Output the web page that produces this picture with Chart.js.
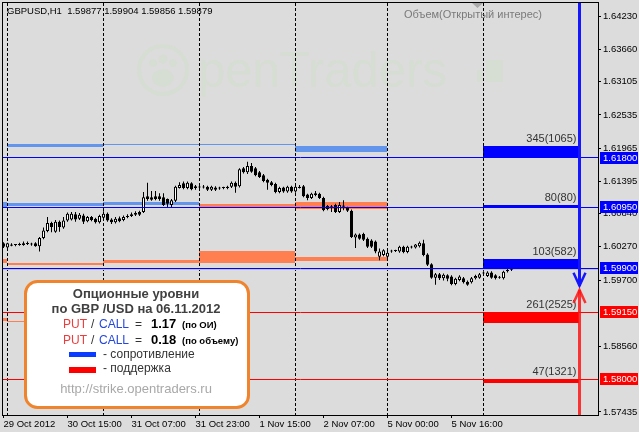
<!DOCTYPE html>
<html>
<head>
<meta charset="utf-8">
<title>GBPUSD H1 option levels</title>
<script src="https://cdn.jsdelivr.net/npm/chart.js@4.4.1/dist/chart.umd.min.js"></script>
<style>
  html, body { margin: 0; padding: 0; background: #dcdcdc; }
  #box { width: 639px; height: 432px; position: relative; }
</style>
</head>
<body>
<div id="box"><canvas id="chart"></canvas></div>
<script>
// GBPUSD H1 bars, 29 Oct 23:00 .. 6 Nov 07:00 (bar index = position on the time axis)
const opens = [
  1.6033, 1.6026, 1.6029, 1.6031, 1.6030, 1.6030, 1.6033, 1.6032, 1.6033, 1.6028,
  1.6042, 1.6054, 1.6068, 1.6053, 1.6070, 1.6060, 1.6072, 1.6074, 1.6083, 1.6075,
  1.6081, 1.6071, 1.6078, 1.6075, 1.6069, 1.6077, 1.6084, 1.6074, 1.6069, 1.6076,
  1.6073, 1.6078, 1.6080, 1.6082, 1.6087, 1.6087, 1.6114, 1.6112, 1.6114, 1.6114,
  1.6112, 1.6109, 1.6099, 1.6106, 1.6128, 1.6136, 1.6128, 1.6136, 1.6131, 1.6130,
  1.6129, 1.6130, 1.6125, 1.6129, 1.6127, 1.6128, 1.6128, 1.6130, 1.6137, 1.6131,
  1.6162, 1.6155, 1.6166, 1.6162, 1.6155, 1.6150, 1.6142, 1.6138, 1.6135, 1.6121,
  1.6129, 1.6122, 1.6130, 1.6122, 1.6130, 1.6131, 1.6117, 1.6111, 1.6119, 1.6118,
  1.6111, 1.6092, 1.6096, 1.6099, 1.6087, 1.6098, 1.6094, 1.6089, 1.6043, 1.6048,
  1.6049, 1.6041, 1.6038, 1.6036, 1.6010, 1.6013, 1.6010, 1.6019, 1.6020, 1.6019,
  1.6027, 1.6018, 1.6027, 1.6026, 1.6028, 1.6033, 1.6014, 1.5997, 1.5974, 1.5980,
  1.5973, 1.5978, 1.5976, 1.5963, 1.5970, 1.5973, 1.5967, 1.5966, 1.5973, 1.5974,
  1.5981, 1.5977, 1.5983, 1.5978, 1.5975, 1.5973, 1.5985, 1.59877
];
const highs = [
  1.6035, 1.6034, 1.6033, 1.6032, 1.6034, 1.6036, 1.6036, 1.6034, 1.6035, 1.6044,
  1.6060, 1.6078, 1.6070, 1.6073, 1.6072, 1.6078, 1.6086, 1.6087, 1.6087, 1.6085,
  1.6084, 1.6080, 1.6080, 1.6077, 1.6082, 1.6088, 1.6086, 1.6076, 1.6078, 1.6079,
  1.6081, 1.6083, 1.6086, 1.6088, 1.6089, 1.6121, 1.6137, 1.6123, 1.6123, 1.6119,
  1.6119, 1.6110, 1.6109, 1.6132, 1.6138, 1.6139, 1.6139, 1.6138, 1.6133, 1.6132,
  1.6133, 1.6132, 1.6132, 1.6131, 1.6130, 1.6130, 1.6132, 1.6139, 1.6139, 1.6162,
  1.6164, 1.6173, 1.6171, 1.6164, 1.6157, 1.6152, 1.6144, 1.6140, 1.6137, 1.6130,
  1.6130, 1.6132, 1.6132, 1.6133, 1.6133, 1.6133, 1.6118, 1.6120, 1.6123, 1.6120,
  1.6113, 1.6099, 1.6099, 1.6101, 1.6104, 1.6107, 1.6096, 1.6091, 1.6050, 1.6050,
  1.6051, 1.6043, 1.6040, 1.6038, 1.6024, 1.6023, 1.6021, 1.6022, 1.6022, 1.6029,
  1.6029, 1.6029, 1.6029, 1.6032, 1.6036, 1.6039, 1.6016, 1.5999, 1.5982, 1.5982,
  1.5981, 1.5980, 1.5978, 1.5974, 1.5978, 1.5975, 1.5969, 1.5975, 1.5979, 1.5982,
  1.5985, 1.5985, 1.5985, 1.5980, 1.5977, 1.5986, 1.5990, 1.59904
];
const lows = [
  1.6025, 1.6025, 1.6028, 1.6028, 1.6029, 1.6029, 1.6030, 1.6029, 1.6027, 1.6019,
  1.6040, 1.6052, 1.6052, 1.6051, 1.6053, 1.6058, 1.6070, 1.6072, 1.6070, 1.6073,
  1.6066, 1.6069, 1.6071, 1.6067, 1.6067, 1.6075, 1.6070, 1.6066, 1.6067, 1.6069,
  1.6071, 1.6076, 1.6078, 1.6080, 1.6080, 1.6085, 1.6106, 1.6106, 1.6107, 1.6106,
  1.6097, 1.6095, 1.6094, 1.6104, 1.6127, 1.6126, 1.6126, 1.6124, 1.6125, 1.6127,
  1.6127, 1.6123, 1.6123, 1.6123, 1.6125, 1.6126, 1.6126, 1.6128, 1.6120, 1.6129,
  1.6153, 1.6152, 1.6154, 1.6148, 1.6145, 1.6138, 1.6125, 1.6131, 1.6119, 1.6119,
  1.6120, 1.6120, 1.6120, 1.6120, 1.6127, 1.6112, 1.6107, 1.6109, 1.6114, 1.6109,
  1.6088, 1.6090, 1.6087, 1.6085, 1.6085, 1.6090, 1.6087, 1.6042, 1.6025, 1.6039,
  1.6037, 1.6025, 1.6025, 1.6016, 1.6004, 1.6011, 1.6008, 1.6017, 1.6018, 1.6017,
  1.6016, 1.6016, 1.6024, 1.6024, 1.6026, 1.6011, 1.5994, 1.5972, 1.5962, 1.5970,
  1.5969, 1.5968, 1.5961, 1.5961, 1.5968, 1.5964, 1.5960, 1.5964, 1.5971, 1.5972,
  1.5979, 1.5975, 1.5972, 1.5971, 1.5972, 1.5971, 1.5983, 1.59856
];
const closes = [
  1.6027, 1.6033, 1.6031, 1.6030, 1.6031, 1.6033, 1.6032, 1.6031, 1.6028, 1.6042,
  1.6055, 1.6068, 1.6061, 1.6070, 1.6061, 1.6072, 1.6084, 1.6084, 1.6074, 1.6082,
  1.6070, 1.6078, 1.6073, 1.6069, 1.6080, 1.6084, 1.6072, 1.6069, 1.6075, 1.6071,
  1.6078, 1.6080, 1.6083, 1.6085, 1.6082, 1.6112, 1.6109, 1.6108, 1.6109, 1.6109,
  1.6099, 1.6101, 1.6107, 1.6130, 1.6133, 1.6128, 1.6137, 1.6126, 1.6128, 1.6129,
  1.6130, 1.6125, 1.6130, 1.6125, 1.6128, 1.6128, 1.6130, 1.6137, 1.6130, 1.6160,
  1.6155, 1.6166, 1.6156, 1.6150, 1.6147, 1.6140, 1.6137, 1.6133, 1.6121, 1.6128,
  1.6122, 1.6130, 1.6122, 1.6130, 1.6128, 1.6114, 1.6111, 1.6118, 1.6116, 1.6111,
  1.6090, 1.6097, 1.6095, 1.6087, 1.6099, 1.6096, 1.6089, 1.6044, 1.6048, 1.6041,
  1.6039, 1.6027, 1.6027, 1.6019, 1.6019, 1.6021, 1.6017, 1.6020, 1.6020, 1.6027,
  1.6018, 1.6027, 1.6026, 1.6031, 1.6034, 1.6013, 1.5996, 1.5974, 1.5980, 1.5973,
  1.5979, 1.5972, 1.5963, 1.5972, 1.5976, 1.5966, 1.5962, 1.5973, 1.5977, 1.5980,
  1.5983, 1.5983, 1.5974, 1.5973, 1.5974, 1.5984, 1.5987, 1.59879
];

// time axis
const timeTicks = [0, 16, 32, 48, 64, 80, 96, 112];
const timeLabels = ["29 Oct 2012", "30 Oct 15:00", "31 Oct 07:00", "31 Oct 23:00",
  "1 Nov 15:00", "2 Nov 07:00", "5 Nov 00:00", "5 Nov 16:00"];
const daySeparators = [1, 25, 49, 73, 96, 120];

// price axis
const priceTicks = [1.64230, 1.63660, 1.63105, 1.62535, 1.61965, 1.61395, 1.60840,
  1.60270, 1.59700, 1.58560, 1.57435];
const priceMin = 1.57382;
const priceMax = 1.64457;

// option levels for 06.11.2012
const levelPrices = [1.6180, 1.6095, 1.5990, 1.5915, 1.5800];
const levelIsCall = [true, true, true, false, false];
const levelTexts = ["345(1065)", "80(80)", "103(582)", "261(2525)", "47(1321)"];
const levelTops = [1.6200, 1.6099, 1.6006, 1.5915, 1.5800];
const levelBottoms = [1.6180, 1.6095, 1.5990, 1.5897, 1.5793];
const levelFrom = 120;
const levelTo = 144;
const arrowBar = 144;
const callArrowTip = 1.5960;
const putArrowTip = 1.5953;

// levels of the previous days
const pastFrom = [1, 25, 73, -24, 1, 25, 49, 73, -24, 1, 25, 49, 73, -24, 1];
const pastTo = [25, 73, 96, 1, 25, 49, 73, 96, 1, 25, 49, 73, 96, 1, 25];
const pastTops = [1.6204, 1.6203, 1.6200, 1.6104, 1.6103, 1.6104, 1.6101, 1.6104,
  1.6006, 1.5999, 1.6004, 1.6020, 1.6010, 1.5905, 1.5900];
const pastBottoms = [1.6198, 1.6202, 1.6190, 1.6096, 1.6097, 1.6098, 1.6096, 1.6092,
  1.6000, 1.5995, 1.5999, 1.6000, 1.6003, 1.5900, 1.5899];
const pastIsCall = [true, true, true, true, true, true, false, false,
  false, false, false, false, false, false, false];

const AXIS_FONT = '9.5px "Liberation Sans", Arial, sans-serif';
const SANS = '"Liberation Sans", Arial, sans-serif';

function drawWatermark(ctx) {
  ctx.save();
  ctx.globalAlpha = 0.12;
  ctx.strokeStyle = "#aaf091";
  ctx.fillStyle = "#aaf091";
  ctx.lineWidth = 4;
  ctx.beginPath();
  ctx.arc(163, 70, 24, 0, Math.PI * 2);
  ctx.stroke();
  [[153, 63, 4], [163, 59, 4.5], [173, 63, 4]].forEach(h => {
    ctx.beginPath();
    ctx.arc(h[0], h[1], h[2], 0, Math.PI * 2);
    ctx.fill();
  });
  ctx.beginPath();
  ctx.ellipse(163, 78, 11, 9, 0, 0, Math.PI * 2);
  ctx.fill();
  ctx.font = "50px " + SANS;
  const w = ctx.measureText("penTraders").width;
  ctx.save();
  ctx.translate(198, 87);
  ctx.scale(249 / w, 1);
  ctx.fillText("penTraders", 0, 0);
  ctx.restore();
  ctx.fillRect(477, 70, 6, 12);
  ctx.fillRect(486, 60, 17, 22);
  ctx.restore();
}

const overlay = {
  id: "overlay",
  beforeDatasetsDraw(chart) {
    const { ctx, chartArea: a, scales: { x, y } } = chart;
    ctx.save();
    ctx.beginPath();
    ctx.rect(a.left, a.top, a.right - a.left, a.bottom - a.top);
    ctx.clip();
    drawWatermark(ctx);

    const band = (from, to, top, bottom, color) => {
      const x0 = Math.floor(x.getPixelForValue(from));
      const x1 = Math.floor(x.getPixelForValue(to));
      const y0 = Math.round(y.getPixelForValue(top));
      const y1 = Math.round(y.getPixelForValue(bottom));
      ctx.fillStyle = color;
      ctx.fillRect(x0, y0, x1 - x0, Math.max(1, y1 - y0));
    };
    for (let i = 0; i < pastFrom.length; i++) {
      band(pastFrom[i], pastTo[i], pastTops[i], pastBottoms[i],
        pastIsCall[i] ? "#6495ed" : "#ff7f50");
    }
    for (let i = 0; i < levelPrices.length; i++) {
      band(levelFrom, levelTo, levelTops[i], levelBottoms[i],
        levelIsCall[i] ? "#0000ff" : "#ff0000");
    }

    // day separators
    ctx.strokeStyle = "#000";
    ctx.lineWidth = 1;
    ctx.setLineDash([3, 2]);
    daySeparators.forEach(b => {
      const px = Math.floor(x.getPixelForValue(b)) + 0.5;
      ctx.beginPath();
      ctx.moveTo(px, a.top);
      ctx.lineTo(px, a.bottom);
      ctx.stroke();
    });
    ctx.setLineDash([]);

    // bid line
    const by = Math.floor(y.getPixelForValue(closes[closes.length - 1])) + 0.5;
    ctx.strokeStyle = "#c0c0c0";
    ctx.beginPath();
    ctx.moveTo(a.left, by);
    ctx.lineTo(a.right, by);
    ctx.stroke();
    ctx.restore();
  },
  afterDatasetsDraw(chart) {
    const { ctx, chartArea: a, scales: { x, y } } = chart;
    ctx.save();
    ctx.lineWidth = 1;
    levelPrices.forEach((p, i) => {
      const py = Math.floor(y.getPixelForValue(p)) + 0.5;
      ctx.strokeStyle = levelIsCall[i] ? "#0000ff" : "#ff0000";
      ctx.beginPath();
      ctx.moveTo(a.left, py);
      ctx.lineTo(a.right, py);
      ctx.stroke();
    });

    // level captions
    ctx.font = "11px " + SANS;
    ctx.fillStyle = "#333";
    ctx.textAlign = "right";
    ctx.textBaseline = "alphabetic";
    const tx = x.getPixelForValue(levelTo) - 3;
    levelTexts.forEach((t, i) => {
      ctx.fillText(t, tx, y.getPixelForValue(levelTops[i]) - 4);
    });

    // direction arrows
    const ax = x.getPixelForValue(arrowBar);
    const cy = y.getPixelForValue(callArrowTip);
    const py = y.getPixelForValue(putArrowTip);
    ctx.lineCap = "butt";
    ctx.strokeStyle = "#1515ff";
    ctx.lineWidth = 3;
    ctx.beginPath();
    ctx.moveTo(ax, a.top);
    ctx.lineTo(ax, cy);
    ctx.stroke();
    ctx.lineWidth = 2.5;
    ctx.beginPath();
    ctx.moveTo(ax - 6, cy - 13);
    ctx.lineTo(ax, cy);
    ctx.lineTo(ax + 6, cy - 13);
    ctx.stroke();
    ctx.strokeStyle = "rgba(255,20,20,0.85)";
    ctx.lineWidth = 3;
    ctx.beginPath();
    ctx.moveTo(ax, a.bottom);
    ctx.lineTo(ax, py);
    ctx.stroke();
    ctx.lineWidth = 2.5;
    ctx.beginPath();
    ctx.moveTo(ax - 6, py + 13);
    ctx.lineTo(ax, py);
    ctx.lineTo(ax + 6, py + 13);
    ctx.stroke();
    ctx.restore();
  },
  afterDraw(chart) {
    const { ctx, chartArea: a, scales: { y } } = chart;
    ctx.save();

    // frame
    ctx.strokeStyle = "#000";
    ctx.lineWidth = 1;
    ctx.strokeRect(a.left - 0.5, a.top - 0.5, a.right - a.left + 1, a.bottom - a.top + 1);

    // price tags of the levels
    ctx.font = AXIS_FONT;
    ctx.textBaseline = "middle";
    ctx.textAlign = "left";
    levelPrices.forEach((p, i) => {
      const py = Math.round(y.getPixelForValue(p));
      ctx.fillStyle = levelIsCall[i] ? "#0000ff" : "#ff0000";
      ctx.fillRect(a.right + 2, py - 6, chart.width - a.right - 3, 12);
      ctx.fillStyle = "#fff";
      ctx.fillText(p.toFixed(5), a.right + 5, py);
    });

    // header
    ctx.fillStyle = "#000";
    ctx.textBaseline = "alphabetic";
    ctx.fillText("GBPUSD,H1  1.59877 1.59904 1.59856 1.59879", 7, 14);
    ctx.font = "11px " + SANS;
    ctx.fillStyle = "#7a7a7a";
    ctx.textAlign = "center";
    ctx.fillText("Объем(Открытый интерес)", 473, 18);
    ctx.fillStyle = "#a8a8a8";
    ctx.beginPath();
    ctx.moveTo(472, 3);
    ctx.lineTo(483, 3);
    ctx.lineTo(477.5, 8);
    ctx.fill();

    // info box
    ctx.beginPath();
    ctx.roundRect(25.5, 281.5, 223, 126, 12);
    ctx.fillStyle = "#fff";
    ctx.fill();
    ctx.strokeStyle = "#f0842c";
    ctx.lineWidth = 3;
    ctx.stroke();

    ctx.fillStyle = "#404040";
    ctx.font = "bold 13px " + SANS;
    ctx.fillText("Опционные уровни", 136, 298);
    ctx.fillText("по GBP /USD на 06.11.2012", 136, 313);

    ctx.textAlign = "left";
    const ratioRow = (value, note, base) => {
      ctx.font = "12px " + SANS;
      ctx.fillStyle = "#ee3b3b";
      ctx.fillText("PUT", 63, base);
      ctx.fillStyle = "#333";
      ctx.fillText("/", 91, base);
      ctx.fillStyle = "#2446e0";
      ctx.fillText("CALL", 99, base);
      ctx.fillStyle = "#333";
      ctx.fillText("=", 135, base);
      ctx.fillStyle = "#000";
      ctx.font = "bold 13px " + SANS;
      ctx.fillText(value, 151, base);
      ctx.font = "bold 9.5px " + SANS;
      ctx.fillText(note, 182, base);
    };
    ratioRow("1.17", "(по ОИ)", 328);
    ratioRow("0.18", "(по объему)", 344);

    ctx.fillStyle = "#0a3cff";
    ctx.fillRect(69, 352, 27, 5);
    ctx.fillStyle = "#ff0000";
    ctx.fillRect(69, 367, 27, 6);
    ctx.fillStyle = "#333";
    ctx.font = "12px " + SANS;
    ctx.fillText("- сопротивление", 103, 358);
    ctx.fillText("- поддержка", 103, 372);

    ctx.fillStyle = "#a8a8a8";
    ctx.font = "13px " + SANS;
    ctx.textAlign = "center";
    ctx.fillText("http://strike.opentraders.ru", 136, 393);
    ctx.restore();
  }
};

const idx = opens.map((_, i) => i);

new Chart(document.getElementById("chart"), {
  type: "bar",
  data: {
    datasets: [{
      label: "body",
      data: idx.map(i => ({ x: i, y: [opens[i], closes[i]] })),
      backgroundColor: c => closes[c.dataIndex] >= opens[c.dataIndex] ? "#ffffff" : "#000000",
      borderColor: "#000",
      borderWidth: 1,
      borderSkipped: false,
      barThickness: 3,
      minBarLength: 1,
      grouped: false,
      inflateAmount: 0,
      order: 0
    }, {
      label: "shadow",
      data: idx.map(i => ({ x: i, y: [lows[i], highs[i]] })),
      backgroundColor: "#000",
      borderWidth: 0,
      barThickness: 1,
      grouped: false,
      inflateAmount: 0,
      order: 1
    }]
  },
  options: {
    responsive: true,
    maintainAspectRatio: false,
    animation: false,
    devicePixelRatio: 1,
    events: [],
    layout: { padding: { left: 3, top: 3, right: 0, bottom: 0 } },
    plugins: { legend: { display: false }, tooltip: { enabled: false } },
    scales: {
      x: {
        type: "linear",
        offset: false,
        min: -0.125,
        max: 148.625,
        afterBuildTicks: s => { s.ticks = timeTicks.map(v => ({ value: v })); },
        afterFit: s => { s.height = 17; s.paddingLeft = 0; s.paddingRight = 0; },
        ticks: {
          autoSkip: false,
          maxRotation: 0,
          align: "start",
          padding: 1,
          color: "#000",
          font: { family: "Liberation Sans", size: 9.5 },
          callback: v => timeLabels[timeTicks.indexOf(v)]
        },
        grid: { offset: false, drawOnChartArea: false, tickLength: 3, color: "#000" },
        border: { color: "#000" }
      },
      y: {
        position: "right",
        min: priceMin,
        max: priceMax,
        afterBuildTicks: s => { s.ticks = priceTicks.map(v => ({ value: v })); },
        afterFit: s => { s.width = 41; s.paddingTop = 0; s.paddingBottom = 0; },
        ticks: {
          autoSkip: false,
          padding: 2,
          crossAlign: "near",
          color: "#000",
          font: { family: "Liberation Sans", size: 9.5 },
          callback: v => v.toFixed(5)
        },
        grid: { drawOnChartArea: false, tickLength: 3, color: "#000" },
        border: { color: "#000" }
      }
    }
  },
  plugins: [overlay]
});
</script>
</body>
</html>
